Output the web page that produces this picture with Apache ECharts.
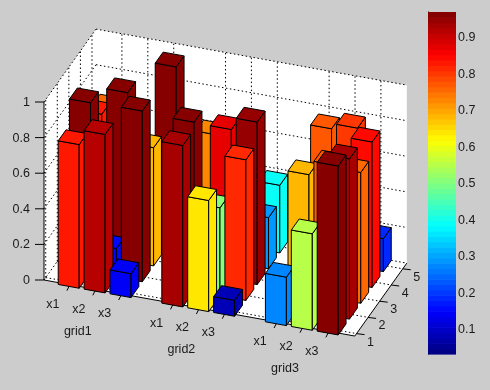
<!DOCTYPE html>
<html><head><meta charset="utf-8">
<style>html,body{margin:0;padding:0;background:#ccc}#c{width:490px;height:390px}</style>
<script src="https://cdn.jsdelivr.net/npm/echarts@6/dist/echarts.min.js"></script>
</head><body><div id="c"></div>
<script>
// ---- data: bar heights, one array per x position, rows 1..5 ----
var grid1x1 = [0.807, 0.953, 0.80, 0.74, 0.45];
var grid1x2 = [0.89, 0.16, 0.947, 0.50, 0.35];
var grid1x3 = [0.134, 0.959, 0.664, 0.40, 0.94];
var grid2x1 = [0.907, 0.949, 0.30, 0.70, 0.50];
var grid2x2 = [0.624, 0.494, 0.845, 0.50, 0.40];
var grid2x3 = [0.089, 0.79, 0.913, 0.287, 0.38];
var grid3x1 = [0.272, 0.10, 0.67, 0.50, 0.75];
var grid3x2 = [0.542, 0.40, 0.75, 0.60, 0.78];
var grid3x3 = [0.949, 0.90, 0.735, 0.817, 0.185];
var columns = [grid1x1, grid1x2, grid1x3, grid2x1, grid2x2, grid2x3, grid3x1, grid3x2, grid3x3];
var xPositions = [1, 2, 3, 5, 6, 7, 9, 10, 11];
var xTickLabels = ['x1', 'x2', 'x3', 'x1', 'x2', 'x3', 'x1', 'x2', 'x3'];
var groupLabels = ['grid1', 'grid2', 'grid3'];
var groupPositions = [2, 6, 10];
var yTicks = [1, 2, 3, 4, 5];
var zTicks = [0, 0.2, 0.4, 0.6, 0.8, 1];
var zTickLabels = ['0', '0.2', '0.4', '0.6', '0.8', '1'];
var colorbarTicks = [0.1, 0.2, 0.3, 0.4, 0.5, 0.6, 0.7, 0.8, 0.9];

// ---- view ----
var xLim = [0, 12], yLim = [0.85, 5.35], zLim = [0, 1];
var A = 11.56 / 25.9, B = 4.67 / 178, C = 16.2 / 178;   // oblique view factors
var barW = 0.81, barD = 0.68, rowStep = 0.9775, rowFront = 0.746;
var cbLim = [0.034, 0.971], colorLim = [0.034, 0.94];
var FONT = '12.5px "Liberation Sans", Arial, sans-serif', INK = '#1a1a1a';

function clip(v) { return Math.max(0, Math.min(1, v)); }
function jet(t) {
  t = (Math.min(63, Math.floor(clip(t) * 64)) + 0.5) / 64;
  var r = clip(1.5 - Math.abs(4 * t - 3)), g = clip(1.5 - Math.abs(4 * t - 2)), b = clip(1.5 - Math.abs(4 * t - 1));
  return 'rgb(' + Math.round(r * 255) + ',' + Math.round(g * 255) + ',' + Math.round(b * 255) + ')';
}
function projector(api) {
  return function (x, y, z) {
    return api.coord([x + (y - yLim[0]) * A, z - x * B + (y - yLim[0]) * C]);
  };
}
function poly(pts, fill) {
  return { type: 'polygon', shape: { points: pts }, style: { fill: fill, stroke: '#000', lineWidth: 1, lineJoin: 'round' } };
}
function line(a, b, dotted) {
  return { type: 'line', shape: { x1: a[0], y1: a[1], x2: b[0], y2: b[1] },
    style: { stroke: '#000', lineWidth: 1, lineDash: dotted ? [1.5, 2.5] : null } };
}
function text(p, s, dx, dy) {
  return { type: 'text', style: { text: s, x: p[0] + dx, y: p[1] + dy, font: FONT, fill: INK, align: 'center', verticalAlign: 'middle' } };
}

// walls, grid lines, ticks and labels
function renderFrame(params, api) {
  var P = projector(api), c = [];
  var x0 = xLim[0], x1 = xLim[1], y0 = yLim[0], y1 = yLim[1], z0 = zLim[0], z1 = zLim[1];
  var plain = function (pts) { return { type: 'polygon', shape: { points: pts }, style: { fill: '#fff', stroke: null } }; };
  c.push(plain([P(x0, y0, z0), P(x1, y0, z0), P(x1, y1, z0), P(x0, y1, z0)]));
  c.push(plain([P(x0, y1, z0), P(x1, y1, z0), P(x1, y1, z1), P(x0, y1, z1)]));
  c.push(plain([P(x0, y0, z0), P(x0, y1, z0), P(x0, y1, z1), P(x0, y0, z1)]));
  xPositions.forEach(function (x) {
    c.push(line(P(x, y0, z0), P(x, y1, z0), true));
    c.push(line(P(x, y1, z0), P(x, y1, z1), true));
  });
  yTicks.forEach(function (y) {
    c.push(line(P(x0, y, z0), P(x1, y, z0), true));
    c.push(line(P(x0, y, z0), P(x0, y, z1), true));
  });
  zTicks.forEach(function (z) {
    c.push(line(P(x0, y0, z), P(x0, y1, z), true));
    c.push(line(P(x0, y1, z), P(x1, y1, z), true));
  });
  c.push(line(P(x0, y0, z0), P(x0, y0, z1)));
  c.push(line(P(x0, y0, z0), P(x1, y0, z0)));
  c.push(line(P(x1, y0, z0), P(x1, y1, z0)));
  xPositions.forEach(function (x, i) {
    var p = P(x, y0, z0);
    c.push(line(p, [p[0] - 3, p[1] + 6]));
    c.push(text(p, xTickLabels[i], -17, 20));
  });
  groupPositions.forEach(function (x, i) {
    c.push(text(P(x, y0, z0), groupLabels[i], -18, 42));
  });
  yTicks.forEach(function (y) {
    var p = P(x1, y, z0);
    c.push(line(p, [p[0] + 8, p[1] + 1]));
    c.push(text(p, String(y), 14, 8.5));
  });
  zTicks.forEach(function (z, i) {
    var p = P(x0, y0, z);
    c.push(line(p, [p[0] - 9, p[1]]));
    c.push({ type: 'text', style: { text: zTickLabels[i], x: p[0] - 14, y: p[1] + 0.5, font: FONT, fill: INK, align: 'right', verticalAlign: 'middle' } });
  });
  return { type: 'group', children: c };
}

// one 3-D bar: value through the same projection
function renderBar(params, api) {
  var P = projector(api);
  var x = api.value(0), row = api.value(1), v = api.value(2);
  var l = x - barW / 2, r = x + barW / 2, f = rowFront + rowStep * (row - 1), b = f + barD;
  var col = jet((v - colorLim[0]) / (colorLim[1] - colorLim[0]));
  return { type: 'group', children: [
    poly([P(l, f, 0), P(r, f, 0), P(r, f, v), P(l, f, v)], col),
    poly([P(r, f, 0), P(r, b, 0), P(r, b, v), P(r, f, v)], col),
    poly([P(l, f, v), P(r, f, v), P(r, b, v), P(l, b, v)], col)
  ] };
}

// painter's order: far to near
var barData = [];
xPositions.forEach(function (x, i) {
  for (var row = 5; row >= 1; row--) barData.push([x, row, columns[i][row - 1]]);
});

// colorbar cells
var cbCells = [];
for (var k = 0; k < 64; k++) cbCells.push(k);
function renderCell(params, api) {
  var k = api.value(0), h = (cbLim[1] - cbLim[0]) / 64;
  var a = api.coord([0, cbLim[0] + k * h]), b = api.coord([1, cbLim[0] + (k + 1) * h]);
  return { type: 'rect', shape: { x: a[0], y: b[1], width: b[0] - a[0], height: a[1] - b[1] + 0.6 }, style: { fill: jet((k + 0.5) / 64) } };
}

var chart = echarts.init(document.getElementById('c'), null, { renderer: 'canvas' });
chart.setOption({
  backgroundColor: '#cccccc',
  animation: false,
  grid: [
    { left: 44, top: 30, width: 363, height: 307 },
    { left: 428, top: 12, width: 28, height: 342 }
  ],
  xAxis: [
    { gridIndex: 0, type: 'value', min: 0, max: 363 / 25.9, show: false },
    { gridIndex: 1, type: 'value', min: 0, max: 1, show: false }
  ],
  yAxis: [
    { gridIndex: 0, type: 'value', min: 250 / 178 - 307 / 178, max: 250 / 178, show: false },
    { gridIndex: 1, type: 'value', position: 'left', min: cbLim[0], max: cbLim[1],
      axisLine: { show: true, lineStyle: { color: '#000', width: 1 } },
      axisTick: { show: true, inside: true, length: 4, customValues: colorbarTicks, lineStyle: { color: '#000' } },
      axisLabel: { show: false }, splitLine: { show: false } },
    { gridIndex: 1, type: 'value', position: 'right', min: cbLim[0], max: cbLim[1],
      axisLine: { show: false },
      axisTick: { show: true, inside: true, length: 4, customValues: colorbarTicks, lineStyle: { color: '#000' } },
      axisLabel: { show: true, inside: false, margin: 2, color: INK, fontFamily: 'Liberation Sans', fontSize: 12.5,
        customValues: colorbarTicks, formatter: function (v) { return v.toFixed(1); } },
      splitLine: { show: false } }
  ],
  series: [
    { type: 'custom', xAxisIndex: 0, yAxisIndex: 0, clip: false, silent: true, data: [[0, 0]], renderItem: renderFrame, z: 1 },
    { type: 'custom', xAxisIndex: 0, yAxisIndex: 0, clip: false, silent: true, data: barData, encode: { x: 0, y: 2 }, renderItem: renderBar, z: 2 },
    { type: 'custom', xAxisIndex: 1, yAxisIndex: 1, silent: true, data: cbCells.map(function (k) { return [k]; }), renderItem: renderCell, z: 1 }
  ]
});
</script></body></html>
